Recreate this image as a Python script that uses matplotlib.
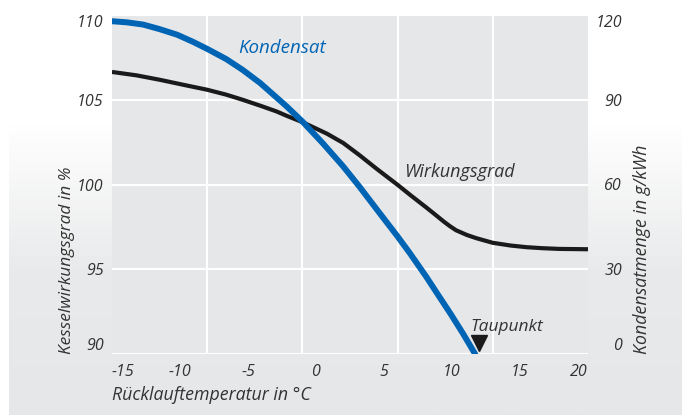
import numpy as np
import matplotlib.pyplot as plt
from matplotlib.colors import LinearSegmentedColormap

# ---- Data ----
temp_kond = [-15, -13.9, -12.7, -11.5, -10.2, -9.0, -8.0, -6.6, -5.4, -4.1, -2.9, -2.15,
             -1.0, 0.5, 2.0, 3.2, 4.5, 6.0, 6.9, 8.1, 8.9, 9.9, 10.8, 11.7]
kondensat = [117.8, 117.4, 116.6, 115.0, 113.0, 110.4, 108.0, 104.4, 100.6, 95.9, 90.8, 87.6,
             82.3, 74.6, 66.4, 59.2, 51.0, 41.6, 35.7, 27.4, 21.5, 14.2, 7.3, 0]

temp_wg = [-15, -13.2, -11.5, -9.8, -8.0, -6.6, -5.4, -4.1, -2.9, -2.15, -1.0, 0.8, 2.0,
           3.2, 4.5, 6.0, 6.9, 8.1, 8.6, 9.4, 9.85, 10.3, 11.1, 11.8, 13.0, 14.3, 15.5,
           16.7, 17.9, 20]
wirkungsgrad = [106.64, 106.44, 106.18, 105.89, 105.59, 105.3, 105.0, 104.65, 104.31, 104.05,
                103.68, 103.0, 102.45, 101.73, 100.9, 99.98, 99.4, 98.65, 98.33, 97.81,
                97.54, 97.3, 97.02, 96.83, 96.56, 96.4, 96.3, 96.24, 96.2, 96.18]

taupunkt = 11.95

x_ticks = [-15, -10, -5, 0, 5, 10, 15, 20]
x_grid = [-8, -1, 6, 13]
y_left_ticks = [90, 95, 100, 105, 110]
y_right_ticks = [0, 30, 60, 90, 120]

# ---- Style ----
plt.rcParams['font.family'] = ['Open Sans', 'DejaVu Sans']
plt.rcParams['font.style'] = 'italic'
txt = "#333333"
blue = "#0064b4"
black = "#1a1a1a"
fs = 11.5

fig = plt.figure(figsize=(6.82, 4.15), dpi=100)
W, H = 682, 415

# background gradient (white at top -> light grey at bottom)
bg = fig.add_axes([0, 0, 1, 1], zorder=-1)
cmap = LinearSegmentedColormap.from_list("bg", ["#e6e7e8", "#e9eaeb", "#ffffff"])
grad = np.linspace(0, 1, 256).reshape(-1, 1)
bg.imshow(grad, cmap=cmap, origin="lower", aspect="auto",
          extent=[9 / W, 1, 0, 290 / H], vmin=0, vmax=1)
bg.set_xlim(0, 1)
bg.set_ylim(0, 1)
bg.axis("off")

ax = fig.add_axes([112 / W, 61 / H, 476 / W, 339 / H])
ax.set_facecolor("#e6e7e9")
for s in ax.spines.values():
    s.set_visible(False)

ax.plot(temp_wg, wirkungsgrad, color=black, lw=3.0, solid_capstyle="butt",
        solid_joinstyle="round", zorder=3)
ax.set_xlim(-15, 20)
ax.set_ylim(90, 110)

ax.set_xticks(x_ticks)
ax.set_xticks(x_grid, minor=True)
ax.set_xticklabels([str(v) for v in x_ticks])
ax.set_yticks(y_left_ticks)
ax.set_yticklabels([str(v) for v in y_left_ticks])
ax.grid(axis="y", which="major", color="white", lw=1.5)
ax.grid(axis="x", which="minor", color="white", lw=1.5)
ax.grid(axis="x", which="major", visible=False)
ax.tick_params(which="both", length=0, labelsize=fs, labelcolor=txt)
ax.tick_params(axis="x", pad=7)
ax.tick_params(axis="y", pad=6)
ax.set_axisbelow(True)

xl = ax.get_xticklabels()
xl[0].set_ha("left")
xl[-1].set_ha("right")
yl = ax.get_yticklabels()
yl[0].set_va("bottom")
yl[-1].set_va("top")

ax2 = ax.twinx()
for s in ax2.spines.values():
    s.set_visible(False)
ax2.plot(temp_kond, kondensat, color=blue, lw=4.3, solid_capstyle="round",
         solid_joinstyle="round", zorder=4)
ax2.plot([taupunkt], [3.9], marker="v", color=black, markersize=11, ls="none", zorder=5)
ax2.set_ylim(0, 120)
ax2.set_yticks(y_right_ticks)
ax2.set_yticklabels([str(v) for v in y_right_ticks])
ax2.tick_params(length=0, labelsize=fs, labelcolor=txt, pad=24.5)
for t in ax2.get_yticklabels():
    t.set_ha("right")
yr = ax2.get_yticklabels()
yr[0].set_va("bottom")
yr[-1].set_va("top")

# ---- Labels ----
ax.text(-5.74, 108.05, "Kondensat", color=blue, fontsize=13.5, va="center", ha="left")
ax.text(6.5, 100.75, "Wirkungsgrad", color=txt, fontsize=13, va="center", ha="left")
ax.text(11.32, 91.6, "Taupunkt", color=txt, fontsize=12.5, va="center", ha="left")

fig.text(112 / W, 1 - 395 / H, "Rücklauftemperatur in °C", color=txt, fontsize=12.8,
         ha="left", va="center")
fig.text(67 / W, 1 - 354 / H, "Kesselwirkungsgrad in %", color=txt, fontsize=12.4,
         rotation=90, ha="center", va="bottom")
fig.text(642 / W, 1 - 354 / H, "Kondensatmenge in g/kWh", color=txt, fontsize=12.8,
         rotation=90, ha="center", va="bottom")

fig.savefig("out.png", dpi=100)
